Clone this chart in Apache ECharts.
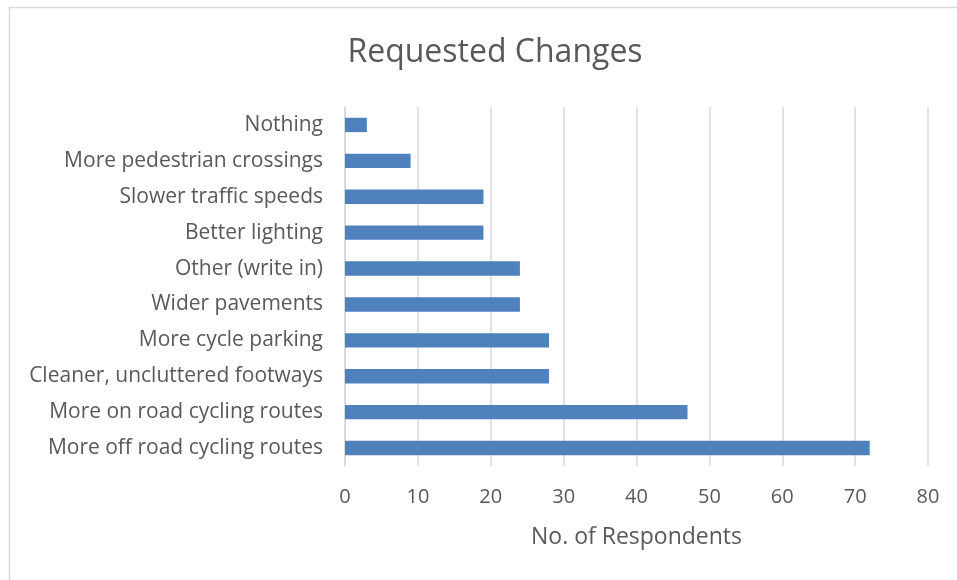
<!DOCTYPE html>
<html lang="en">
<head>
  <meta charset="UTF-8">
  <title>Requested Changes</title>
  <script src="https://cdn.jsdelivr.net/npm/echarts@6/dist/echarts.min.js"></script>
</head>
<body style="margin:0;background:#fff;">
  <div id="container" style="width:957px;height:580px;"></div>
  <script>
    // categories listed bottom to top (ECharts draws category y axis upward)
    var categories = [
      'More off road cycling routes',
      'More on road cycling routes',
      'Cleaner, uncluttered footways',
      'More cycle parking',
      'Wider pavements',
      'Other (write in)',
      'Better lighting',
      'Slower traffic speeds',
      'More pedestrian crossings',
      'Nothing'
    ];
    var respondents = [72, 47, 28, 28, 24, 24, 19, 19, 9, 3];
    var xTicks = [0, 10, 20, 30, 40, 50, 60, 70, 80];

    var textColor = '#595959';
    var font = 'Open Sans';

    var myChart = echarts.init(document.getElementById('container'));
    myChart.setOption({
      backgroundColor: '#fff',
      animation: false,
      title: {
        text: 'Requested Changes',
        left: 490,
        top: 32,
        textAlign: 'center',
        textStyle: { fontFamily: font, fontSize: 32, fontWeight: 'normal', color: textColor }
      },
      // chart frame
      graphic: [{
        type: 'rect',
        shape: { x: 9.5, y: 7.5, width: 1000, height: 1000 },
        style: { fill: 'none', stroke: '#d9d9d9', lineWidth: 1.5 },
        silent: true
      }],
      grid: { left: 345, right: 29, top: 107, bottom: 114 },
      xAxis: {
        type: 'value',
        min: xTicks[0],
        max: xTicks[xTicks.length - 1],
        interval: 10,
        name: 'No. of Respondents',
        nameLocation: 'middle',
        nameGap: 60,
        nameTextStyle: { fontFamily: font, fontSize: 23, color: textColor },
        axisLine: { show: false },
        axisTick: { show: false },
        axisLabel: { fontFamily: font, fontSize: 20, color: textColor, margin: 21 },
        splitLine: { lineStyle: { color: '#d9d9d9', width: 1.5 } }
      },
      yAxis: {
        type: 'category',
        data: categories,
        axisLine: { lineStyle: { color: '#d9d9d9', width: 1.5 } },
        axisTick: { show: false },
        axisLabel: { fontFamily: font, fontSize: 21, color: textColor, margin: 22 }
      },
      series: [{
        type: 'bar',
        data: respondents,
        barCategoryGap: '60%',
        itemStyle: { color: '#4f81bd' }
      }]
    });
  </script>
</body>
</html>
